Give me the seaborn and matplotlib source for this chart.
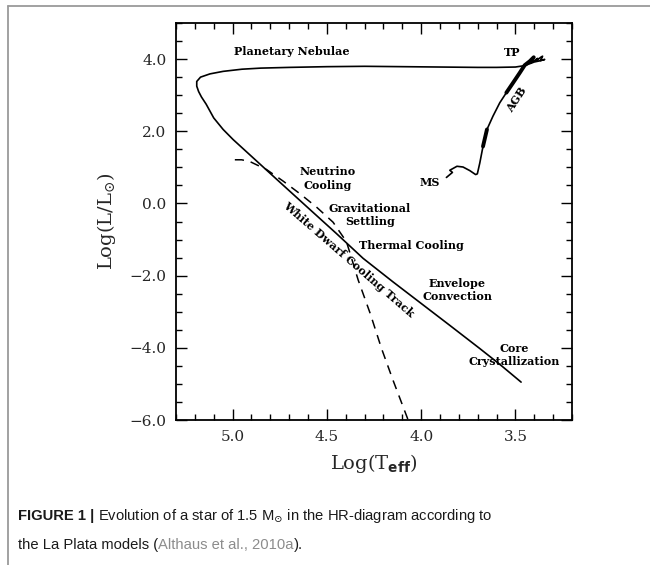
import matplotlib
matplotlib.use("Agg")
import matplotlib.pyplot as plt
import seaborn as sns
import pandas as pd
from matplotlib.ticker import MultipleLocator, FuncFormatter
from matplotlib.lines import Line2D

# ---------------- data ----------------
# evolutionary track: MS -> RGB -> AGB -> TP -> post-AGB (PN) -> WD cooling
track_logT = [3.866, 3.834, 3.848, 3.810, 3.778, 3.742, 3.711, 3.702, 3.689, 3.672,
              3.651, 3.619, 3.583, 3.548, 3.513, 3.477, 3.451, 3.424,
              3.403, 3.413, 3.382, 3.392, 3.366, 3.356, 3.366, 3.345, 3.372, 3.400,
              3.450, 3.500, 3.600, 3.700, 3.900, 4.100, 4.300, 4.500, 4.700, 4.850,
              4.950, 5.050, 5.120, 5.170, 5.190, 5.190, 5.180, 5.165, 5.140, 5.100,
              5.050, 4.997, 4.800, 4.600, 4.450, 4.308, 4.150, 4.000, 3.850, 3.689,
              3.580, 3.470]
track_logL = [0.72, 0.86, 0.92, 1.03, 1.01, 0.91, 0.80, 0.82, 1.12, 1.58,
              2.05, 2.42, 2.79, 3.07, 3.34, 3.62, 3.83, 3.94,
              4.05, 3.91, 4.02, 3.94, 4.05, 4.08, 3.96, 3.99, 3.95, 3.92,
              3.82, 3.78, 3.77, 3.77, 3.78, 3.79, 3.80, 3.79, 3.77, 3.75,
              3.72, 3.66, 3.59, 3.50, 3.38, 3.25, 3.10, 2.95, 2.75, 2.37,
              2.05, 1.77, 0.83, -0.12, -0.83, -1.52, -2.17, -2.77, -3.37, -4.02,
              -4.47, -4.95]
# thicker (slow) phases of the track, as index ranges into the track
thick_ranges = [(9, 10), (13, 18)]

# dashed cooling track
dash_logT = [4.988, 4.952, 4.908, 4.820, 4.732, 4.643, 4.555, 4.467, 4.396,
             4.370, 4.334, 4.270, 4.210, 4.149, 4.069]
dash_logL = [1.21, 1.21, 1.16, 0.94, 0.62, 0.27, -0.10, -0.52, -1.06,
             -1.50, -2.12, -3.05, -4.02, -4.90, -6.00]

# annotation labels
label_texts = ["Planetary Nebulae", "TP", "MS", "Neutrino\nCooling",
               "Gravitational\nSettling", "Thermal Cooling",
               "Envelope\nConvection", "Core\nCrystallization"]
label_logT = [4.686, 3.517, 3.957, 4.498, 4.272, 4.051, 3.809, 3.509]
label_logL = [4.21, 4.19, 0.59, 0.69, -0.31, -1.17, -2.40, -4.20]

rot_texts = ["AGB", "White Dwarf Cooling Track"]
rot_logT = [3.495, 4.387]
rot_logL = [2.88, -1.56]
rot_angle = [57, -41]

x_major = [5.0, 4.5, 4.0, 3.5]
y_major = [-6.0, -4.0, -2.0, 0.0, 2.0, 4.0]

# ---------------- style ----------------
sns.set_style("ticks")
plt.rcParams["font.family"] = ["DejaVu Serif"]
plt.rcParams["mathtext.fontset"] = "custom"
plt.rcParams["mathtext.rm"] = "DejaVu Serif"
plt.rcParams["mathtext.it"] = "DejaVu Serif:italic"
plt.rcParams["mathtext.bf"] = "DejaVu Sans:bold"
plt.rcParams["mathtext.sf"] = "DejaVu Sans"

fig = plt.figure(figsize=(6.5, 5.65), dpi=100)
ax = fig.add_axes([176 / 650, 1 - 420 / 565, 396 / 650, 397 / 565])

track = pd.DataFrame({"logT": track_logT, "logL": track_logL})
sns.lineplot(data=track, x="logT", y="logL", sort=False, estimator=None,
             color="black", lw=1.2, ax=ax)
for i0, i1 in thick_ranges:
    sub = track.iloc[i0:i1 + 1]
    sns.lineplot(data=sub, x="logT", y="logL", sort=False, estimator=None,
                 color="black", lw=2.8, ax=ax)

dashed = pd.DataFrame({"logT": dash_logT, "logL": dash_logL})
sns.lineplot(data=dashed, x="logT", y="logL", sort=False, estimator=None,
             color="black", lw=1.1, linestyle=(0, (6, 4.5)), ax=ax)

for t, xx, yy in zip(label_texts, label_logT, label_logL):
    ax.text(xx, yy, t, ha="center", va="center", fontsize=8, fontweight="bold",
            linespacing=1.25, color="black")
for t, xx, yy, a in zip(rot_texts, rot_logT, rot_logL, rot_angle):
    ax.text(xx, yy, t, ha="center", va="center", fontsize=8, fontweight="bold",
            rotation=a, rotation_mode="anchor", color="black")

ax.set_xlim(5.3, 3.2)
ax.set_ylim(-6.0, 5.0)
ax.xaxis.set_major_locator(plt.FixedLocator(x_major))
ax.yaxis.set_major_locator(plt.FixedLocator(y_major))
ax.xaxis.set_minor_locator(MultipleLocator(0.1))
ax.yaxis.set_minor_locator(MultipleLocator(0.5))
fmt = FuncFormatter(lambda v, p: f"{v:.1f}".replace("-", "\u2212"))
ax.xaxis.set_major_formatter(fmt)
ax.yaxis.set_major_formatter(fmt)
ax.tick_params(which="both", direction="in", top=True, right=True,
               width=1.0, color="black", labelsize=11, pad=7)
ax.tick_params(which="major", length=8)
ax.tick_params(which="minor", length=4.5)
for s in ax.spines.values():
    s.set_linewidth(1.3)
    s.set_color("black")

ax.set_xlabel(r"Log(T$_{\mathbf{eff}}$)", fontsize=14, labelpad=6)
ax.set_ylabel(r"Log(L/L$_{\odot}$)", fontsize=14, labelpad=8)

# outer frame lines (top and left)
fig.add_artist(Line2D([7.5 / 650, 1.0], [1 - 6 / 565, 1 - 6 / 565],
                      transform=fig.transFigure, color="#9a9a9a", lw=1.3))
fig.add_artist(Line2D([7.5 / 650, 7.5 / 650], [0.0, 1 - 6 / 565],
                      transform=fig.transFigure, color="#9a9a9a", lw=1.3))

# caption
cap_font = ["Liberation Sans", "DejaVu Sans"]
fig.canvas.draw()
renderer = fig.canvas.get_renderer()


def runs(x, y, parts):
    for txt, kw in parts:
        t = fig.text(x, y, txt, va="baseline", ha="left", fontsize=10.6,
                     family=cap_font, **kw)
        bb = t.get_window_extent(renderer)
        x = fig.transFigure.inverted().transform((bb.x1, bb.y0))[0]


runs(18 / 650, 1 - 520 / 565,
     [("FIGURE 1 |", dict(fontweight="bold", color="#1a1a1a")),
      (" Evolution of a star of 1.5 M$_{\\odot}$ in the HR-diagram according to",
       dict(color="#1a1a1a"))])
runs(18 / 650, 1 - 549 / 565,
     [("the La Plata models (", dict(color="#1a1a1a")),
      ("Althaus et al., 2010a", dict(color="#8c8c8c")),
      (").", dict(color="#1a1a1a"))])

fig.savefig("out.png", dpi=100)
